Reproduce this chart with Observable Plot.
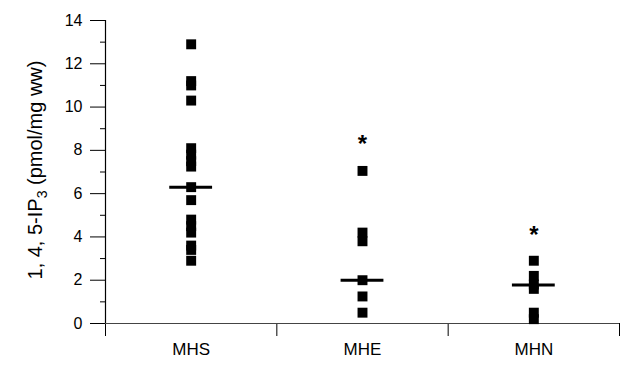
<!DOCTYPE html>
<html>
<head>
<meta charset="utf-8">
<script src="https://cdn.jsdelivr.net/npm/d3@7"></script>
<script src="https://cdn.jsdelivr.net/npm/@observablehq/plot@0.6"></script>
<style>
  html, body { margin: 0; padding: 0; background: #fff; }
  svg { display: block; }
</style>
</head>
<body>
<div id="chart"></div>
<script>
const categories = ["MHS", "MHE", "MHN"];
const mhsValues = [12.9, 11.2, 11.0, 10.3, 8.1, 7.8, 7.5, 7.25, 6.3, 5.7, 4.8, 4.5, 4.2, 3.6, 3.4, 2.9];
const mheValues = [7.05, 4.2, 3.8, 2.0, 1.25, 0.5];
const mhnValues = [2.9, 2.2, 1.8, 1.6, 0.5, 0.2];
const medians = [6.3, 2.0, 1.78];
const asterisks = [null, 8.55, 4.35];
const yMajorTicks = [0, 2, 4, 6, 8, 10, 12, 14];
const yMinorTicks = [1, 3, 5, 7, 9, 11, 13];

const series = [mhsValues, mheValues, mhnValues];
const points = series.flatMap((vals, i) => vals.map(v => ({group: categories[i], value: v})));
const pos = g => categories.indexOf(g) + 0.5;
const medianData = categories.map((g, i) => ({group: g, value: medians[i]}));
const starData = categories.map((g, i) => ({group: g, value: asterisks[i]})).filter(d => d.value != null);
const bounds = d3.range(categories.length + 1);
const centers = categories.map((g, i) => i + 0.5);

const font = "'Liberation Sans', Arial, Helvetica, sans-serif";

const chart = Plot.plot({
  width: 630,
  height: 365,
  marginLeft: 105,
  marginRight: 11,
  marginTop: 20,
  marginBottom: 42,
  style: {fontFamily: font, background: "#fff", color: "#000"},
  x: {type: "linear", domain: [0, categories.length]},
  y: {domain: [0, 14]},
  marks: [
    Plot.axisY({ticks: yMajorTicks, tickSize: 15, tickPadding: 8, fontSize: 16, label: null, stroke: "#000"}),
    Plot.axisY({ticks: yMinorTicks, tickSize: 5, tickFormat: () => "", label: null, stroke: "#000"}),
    Plot.axisX({ticks: bounds, tickSize: 13, tickFormat: () => "", label: null, stroke: "#000"}),
    Plot.axisX({ticks: centers, tickSize: 0, tickPadding: 19, fontSize: 17,
      tickFormat: v => categories[Math.floor(v)], label: null}),
    Plot.ruleX([0], {y1: 0, y2: 14, stroke: "#000", strokeWidth: 1.2}),
    Plot.ruleY([0], {x1: 0, x2: categories.length, stroke: "#444", strokeWidth: 1.2}),
    Plot.dot(points, {x: d => pos(d.group), y: "value", symbol: "square", r: 5.6, fill: "#000", stroke: null}),
    Plot.ruleY(medianData, {y: "value", x1: d => pos(d.group) - 0.125, x2: d => pos(d.group) + 0.125, stroke: "#000", strokeWidth: 3}),
    Plot.text(starData, {x: d => pos(d.group), y: "value", text: () => "*", fontSize: 24, fontWeight: "bold", dy: 6, fill: "#000"})
  ]
});

const svg = d3.select(chart);
const title = svg.append("text")
  .attr("transform", "translate(42,170) rotate(-90)")
  .attr("text-anchor", "middle")
  .attr("font-family", font)
  .attr("font-size", 20)
  .attr("fill", "#000");
title.append("tspan").text("1, 4, 5-IP");
title.append("tspan").attr("font-size", 14).attr("dy", 5).text("3");
title.append("tspan").attr("dy", -5).text(" (pmol/mg ww)");

document.getElementById("chart").appendChild(chart);
</script>
</body>
</html>
